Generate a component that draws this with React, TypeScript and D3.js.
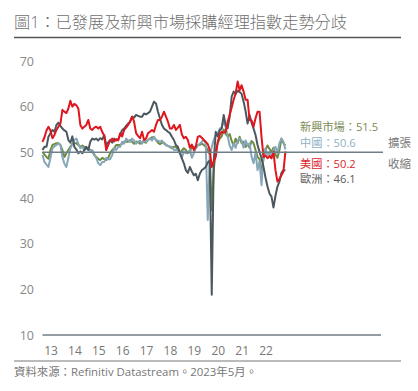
import React from 'react';
import * as d3 from 'd3';

const yearLabels = ['13', '14', '15', '16', '17', '18', '19', '20', '21', '22'];
const yTicks = [10, 20, 30, 40, 50, 60, 70];

// Monthly readings, first point ≈ early 2013, last ≈ spring 2023
const us = [
  52.3, 53.3, 54.8, 55.6, 54.8, 53.1, 53.8, 54.9, 55.6, 56.3,
  59.3, 58.9, 58.6, 59.6, 61.3, 60, 60.6, 60.3, 59.6, 56,
  55.2, 55.6, 56, 57.1, 55.2, 54.9, 55.4, 55.6, 55.2, 55.6,
  54.5, 53.6, 50.5, 51.6, 52.6, 53, 52.4, 52.9, 52.6, 54.2,
  53.5, 54.9, 55.4, 56, 56.7, 57.8, 56.7, 54.2, 53.6, 53.1,
  54.5, 52.7, 53, 54.2, 54.5, 54.9, 54.5, 56, 57.1, 57.1,
  57.8, 58.9, 57.8, 56.7, 55.2, 55.2, 56, 54.9, 55.4, 56,
  53.9, 53.1, 53.4, 52.7, 51, 51.7, 50.5, 51.3, 53.4, 53.6,
  53.2, 52.7, 52.3, 51.8, 50.5, 46.8, 48, 49, 52.3, 53.8,
  54.5, 54.3, 54.5, 56.7, 58.2, 59.8, 61.5, 62.9, 65.5, 63.6,
  64.7, 63.3, 61.5, 61.5, 57.1, 57, 55.6, 57.5, 58.9, 58.9,
  53.4, 49, 49.3, 48.7, 49.2, 48.7, 50.1, 46.1, 43.6, 44.2,
  45, 45.8, 50.2,
];

const europe = [
  50.5, 51.2, 51.2, 53.4, 54.2, 54.9, 54.5, 56, 56.5, 55.8,
  55.2, 54.8, 54.5, 52.7, 52.1, 53.5, 51.2, 50.6, 49.8, 50.2,
  49.8, 50.5, 51.2, 50.5, 52.3, 53, 52.8, 53, 52.6, 53.1,
  52.8, 53.8, 51.6, 52.2, 52.7, 52.1, 53, 52.6, 52.8, 53.8,
  54.9, 55.2, 55.8, 56.3, 56.7, 57.8, 57.6, 58.2, 58, 57.8,
  57.8, 58.5, 58.3, 58.6, 58.9, 60, 61.1, 60.7, 58.9, 57.4,
  56, 55.2, 54.9, 54.5, 54.2, 53.4, 52.7, 51.6, 51.2, 49.8,
  48.7, 47.6, 46.1, 45.5, 46.8, 45.8, 45, 45.3, 43.9, 45.3,
  46.1, 46.4, 46.8, 47.8, 48.2, 18.8, 48, 54.5, 53.5, 54.8,
  55.2, 58.2, 56, 55.3, 57.8, 62.2, 63.3, 62.8, 63.5, 63.2,
  62.8, 61.1, 59, 56.3, 58.2, 56.5, 55.2, 53.8, 51.6, 50.1,
  48.7, 46.8, 44.5, 42.5, 41, 40.3, 37.9, 40.5, 42.5, 43.6,
  45.5, 46.1, 46.1,
];

const china = [
  49.4, 47.9, 47.3, 46.8, 48.8, 50.9, 51.3, 51.6, 51.9, 51.6,
  49, 47.5, 46.8, 48.8, 50.9, 51.8, 52.7, 53, 51.9, 50.9,
  51.2, 50.5, 50.7, 50.9, 50.2, 50.5, 49.6, 48.8, 47.6, 47.2,
  47.9, 47.9, 48.8, 48.5, 48.5, 49.4, 50.9, 50.5, 51.2, 51.2,
  52.3, 51.9, 53, 52.6, 52.3, 53, 52.6, 51.9, 52.3, 52.6,
  51.9, 52.7, 52.3, 52.7, 53, 52.6, 53.4, 52.6, 52.6, 52.3,
  52.6, 51.9, 51.6, 51.4, 51.2, 51.2, 50.5, 50.5, 50.5, 50.2,
  48.8, 50.2, 49.8, 50, 50.5, 48.8, 49.8, 50.9, 51.5, 51.9,
  52.3, 52.7, 51.9, 35.2, 49, 51.2, 52.7, 53.8, 54, 55.2,
  55.5, 57, 55.5, 53.5, 51.5, 50.5, 52, 51, 52.6, 53,
  52.6, 51, 52.6, 51.5, 52, 49, 47.6, 50, 46.1, 48,
  42.8, 50.1, 50.9, 49.4, 50.1, 48.7, 50.5, 51.2, 49.8, 52,
  53, 52.3, 50.6,
];

const emerging = [
  50.1, 49.5, 49, 48.6, 50.5, 51.6, 51.8, 52, 52, 51.6,
  50.5, 49, 49.8, 50.5, 51.2, 51.9, 52, 52, 51.6, 51.2,
  51.5, 51.2, 51, 50.9, 50.5, 50.2, 49.4, 49, 48.6, 48.3,
  48.8, 48.5, 48.3, 48.8, 49.8, 50.5, 50.9, 51.6, 51.6, 51.6,
  51.9, 52.3, 52.3, 52.3, 52.7, 52.3, 51.9, 52.3, 52.3, 51.9,
  52.3, 52.3, 52.1, 52.7, 53, 53.3, 53.3, 52.7, 52.1, 51.8,
  52.1, 52.1, 51.6, 51.4, 51.2, 50.9, 51.2, 51.2, 50.5, 49.8,
  50.4, 50.9, 50.5, 49.8, 50.1, 51.2, 51.2, 50.9, 51.6, 51.6,
  51.9, 51.6, 51.2, 50.5, 49.5, 37.3, 46, 50.5, 52, 53,
  53.5, 55, 54, 53.5, 54, 52.5, 51.5, 53, 52, 53.4,
  52, 52.3, 51.2, 51.8, 51, 52.5, 52, 50.5, 49, 48.5,
  45.5, 48.5, 50.5, 51.5, 50.8, 50, 51, 49.5, 48.8, 50.5,
  53, 52, 51.5,
];

const seriesNames = ['新興市場', '中國', '美國', '歐洲'];
const seriesLatest = ['51.5', '50.6', '50.2', '46.1'];
const zoneLabels = ['擴張', '收縮'];

const title = '圖1：已發展及新興市場採購經理指數走勢分歧';
const source = '資料來源：Refinitiv Datastream。2023年5月。';

const FONT = "'Open Sans', 'Noto Sans CJK TC', sans-serif";

export default function App() {
  const W = 418;
  const H = 391;
  const x = d3.scaleLinear().domain([0, 170]).range([42.5, 381]);
  const y = d3.scaleLinear().domain([10, 70]).range([335, 61]);
  const line = d3
    .line<number>()
    .x((_, i) => x(i))
    .y((d) => y(d));

  const series = [
    { data: emerging, color: '#6e8b3d' },
    { data: china, color: '#86a7b9' },
    { data: europe, color: '#4b585f' },
    { data: us, color: '#e0161e' },
  ];

  const legendColors = ['#7b8c55', '#8fb0c4', '#d8262c', '#5a5a5a'];
  const legendY = [130.5, 146.5, 168, 183];

  return (
    <svg
      width={W}
      height={H}
      style={{ position: 'absolute', left: 0, top: 0, background: '#fff' }}
      fontFamily={FONT}
    >
      <rect x={0} y={0} width={W} height={H} fill="#fff" />
      <text x={14} y={28} fontSize={16.2} fill="#707070" fontWeight={300}>
        {title}
      </text>
      <line x1={14} x2={401} y1={37.5} y2={37.5} stroke="#555" strokeWidth={1.5} />

      {yTicks.map((t) => (
        <text key={t} x={34} y={y(t) + 4.5} fontSize={12.5} fill="#888" textAnchor="end">
          {t}
        </text>
      ))}

      {yearLabels.map((lab, k) => (
        <text
          key={lab}
          x={x(4.27 + 12 * k)}
          y={355}
          fontSize={12}
          fill="#777"
          textAnchor="middle"
        >
          {lab}
        </text>
      ))}

      <line x1={x(0)} x2={x(170)} y1={y(10)} y2={y(10)} stroke="#6f7c84" strokeWidth={1.5} />

      {series.map((s, i) => (
        <path
          key={i}
          d={line(s.data) || ''}
          fill="none"
          stroke={s.color}
          strokeWidth={2}
          strokeLinejoin="round"
        />
      ))}

      <line x1={x(0)} x2={x(171)} y1={y(50)} y2={y(50)} stroke="#6f7f88" strokeWidth={1.5} />

      {seriesNames.map((n, i) => (
        <text key={n} x={300} y={legendY[i]} fontSize={11.2} fill={legendColors[i]}>
          {n}：{seriesLatest[i]}
        </text>
      ))}
      <text x={388} y={146.5} fontSize={11.5} fill="#777">
        {zoneLabels[0]}
      </text>
      <text x={388} y={168} fontSize={11.5} fill="#777">
        {zoneLabels[1]}
      </text>

      <line x1={14} x2={401} y1={361} y2={361} stroke="#777" strokeWidth={1} />
      <text x={14} y={376} fontSize={11.4} fill="#777">
        {source}
      </text>
    </svg>
  );
}
